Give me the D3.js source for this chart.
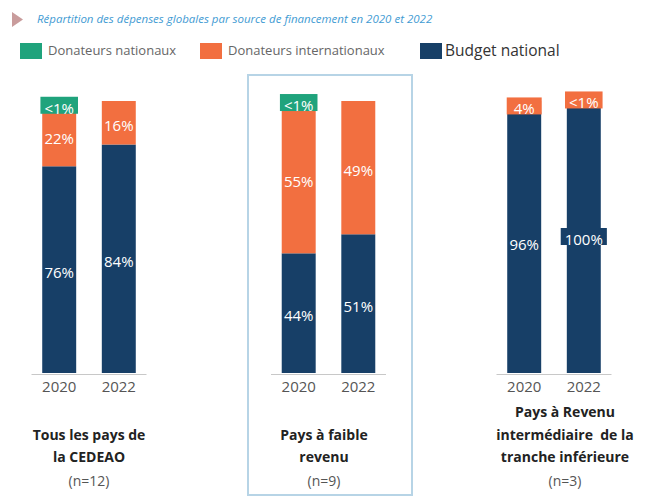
<!DOCTYPE html>
<html>
<head>
<meta charset="utf-8">
<script src="https://cdn.jsdelivr.net/npm/d3@7/dist/d3.min.js"></script>
<style>
  html, body { margin: 0; padding: 0; background: #fff; }
  svg { display: block; font-family: "Open Sans", "Noto Sans", sans-serif; }
  .keep-space { white-space: pre; }
</style>
</head>
<body>
<svg id="chart" width="661" height="497"></svg>
<script>
// Spending shares by funding source, 2020 vs 2022, for three country groups
const years = ["2020", "2022"];
const groups = ["Tous les pays de la CEDEAO", "Pays à faible revenu", "Pays à Revenu intermédiaire de la tranche inférieure"];
const groupTitleLines = [
  ["Tous les pays de", "la CEDEAO"],
  ["Pays à faible", "revenu"],
  ["Pays à Revenu", "intermédiaire  de la", "tranche inférieure"]
];
const groupCounts = ["(n=12)", "(n=9)", "(n=3)"];

const seriesNames = ["Budget national", "Donateurs internationaux", "Donateurs nationaux"];
// values in percent, [2020, 2022] for each group
const budgetNational = [[76, 84], [44, 51], [96, 100]];
const donateursInternationaux = [[22, 16], [55, 49], [4, 0.4]];
const donateursNationaux = [[0.5, 0], [0.5, 0], [0, 0]];

const chartTitle = "Répartition des dépenses globales par source de financement en 2020 et 2022";
const legendOrder = ["Donateurs nationaux", "Donateurs internationaux", "Budget national"];

const colors = {
  "Budget national": "#173f67",
  "Donateurs internationaux": "#f26f40",
  "Donateurs nationaux": "#1fa37c"
};

const seriesValues = [budgetNational, donateursInternationaux, donateursNationaux];

const svg = d3.select("#chart");

// header: marker + title
svg.append("path")
  .attr("d", "M12,12 L23,19.5 L12,27 Z")
  .attr("fill", "#c99c9c");
svg.append("text")
  .attr("x", 37).attr("y", 18)
  .attr("dominant-baseline", "central")
  .attr("font-size", 11.5)
  .attr("font-style", "italic")
  .attr("fill", "#3f9bd3")
  .text(chartTitle);

// legend
const legendLayout = [
  { x: 20, tx: 48, size: 13, color: "#666" },
  { x: 200, tx: 228, size: 13, color: "#666" },
  { x: 420, tx: 445, size: 15.5, color: "#333" }
];
legendOrder.forEach((name, i) => {
  const L = legendLayout[i];
  svg.append("rect").attr("x", L.x).attr("y", 43).attr("width", 22).attr("height", 16)
    .attr("fill", colors[name]);
  svg.append("text").attr("x", L.tx).attr("y", 50)
    .attr("dominant-baseline", "central")
    .attr("font-size", L.size).attr("fill", L.color)
    .text(name);
});

// highlight frame around the low-income group
svg.append("rect")
  .attr("x", 248).attr("y", 75).attr("width", 164).attr("height", 420)
  .attr("fill", "none").attr("stroke", "#b7d4e6").attr("stroke-width", 2);

// shared value scale
const y = d3.scaleLinear().domain([0, 100]).range([373, 101]);

const panelCenters = [89, 328.5, 554];
const titleCenters = [89, 324, 565];

groups.forEach((g, gi) => {
  const cx = panelCenters[gi];
  const x = d3.scaleBand().domain(years)
    .range([cx - 57.5, cx + 57.5])
    .paddingInner(0.43).paddingOuter(0.18);

  const panel = svg.append("g");

  // build stacked rows for this group
  const rows = years.map((yr, yi) => {
    const row = { year: yr };
    seriesNames.forEach((s, si) => { row[s] = seriesValues[si][gi][yi]; });
    return row;
  });
  const stacked = d3.stack().keys(seriesNames)(rows);

  stacked.forEach(layer => {
    panel.selectAll(null)
      .data(layer.filter(d => d[1] - d[0] > 0))
      .enter().append("rect")
      .attr("x", d => x(d.data.year))
      .attr("width", x.bandwidth())
      .attr("y", d => y(d[1]))
      .attr("height", d => y(d[0]) - y(d[1]))
      .attr("fill", colors[layer.key]);
  });

  // data labels
  stacked.forEach(layer => {
    layer.filter(d => d[1] - d[0] > 0).forEach(d => {
      const v = d[1] - d[0];
      const txt = v < 1 ? "<1%" : Math.round(v) + "%";
      const bx = x(d.data.year) + x.bandwidth() / 2;
      const by = (y(d[0]) + y(d[1])) / 2;
      const lg = panel.append("g");
      const t = lg.append("text")
        .attr("x", bx).attr("y", by + 2)
        .attr("text-anchor", "middle")
        .attr("dominant-baseline", "central")
        .attr("font-size", 15)
        .attr("fill", "#fff")
        .text(txt);
      const w = t.node().getComputedTextLength();
      const segH = y(d[0]) - y(d[1]);
      if (segH < 20 || w > x.bandwidth()) {
        const bw = Math.max(w + 8, x.bandwidth() + 1);
        lg.insert("rect", "text")
          .attr("x", bx - bw / 2).attr("y", by - 9)
          .attr("width", bw).attr("height", 17)
          .attr("fill", colors[layer.key]);
      }
    });
  });

  // baseline
  panel.append("line")
    .attr("x1", cx - 57.5).attr("x2", cx + 57.5)
    .attr("y1", 374.5).attr("y2", 374.5)
    .attr("stroke", "#c8c8c8").attr("stroke-width", 1);

  // year axis
  const axis = d3.axisBottom(x).tickSize(0).tickPadding(6);
  const ag = panel.append("g").attr("transform", "translate(0,375)").call(axis);
  ag.select(".domain").remove();
  ag.selectAll("text").attr("font-size", 15).attr("fill", "#555")
    .attr("font-family", "'Open Sans', sans-serif");

  // group title
  const lines = groupTitleLines[gi];
  const tx = titleCenters[gi];
  const nY = 480;
  lines.forEach((ln, li) => {
    panel.append("text")
      .attr("class", "keep-space")
      .attr("x", tx).attr("y", nY - 22.5 * (lines.length - li) - 1)
      .attr("text-anchor", "middle").attr("dominant-baseline", "central")
      .attr("font-size", 14).attr("font-weight", 700).attr("fill", "#222")
      .text(ln);
  });
  panel.append("text")
    .attr("x", tx).attr("y", nY)
    .attr("text-anchor", "middle").attr("dominant-baseline", "central")
    .attr("font-size", 14).attr("fill", "#555")
    .text(groupCounts[gi]);
});
</script>
</body>
</html>
